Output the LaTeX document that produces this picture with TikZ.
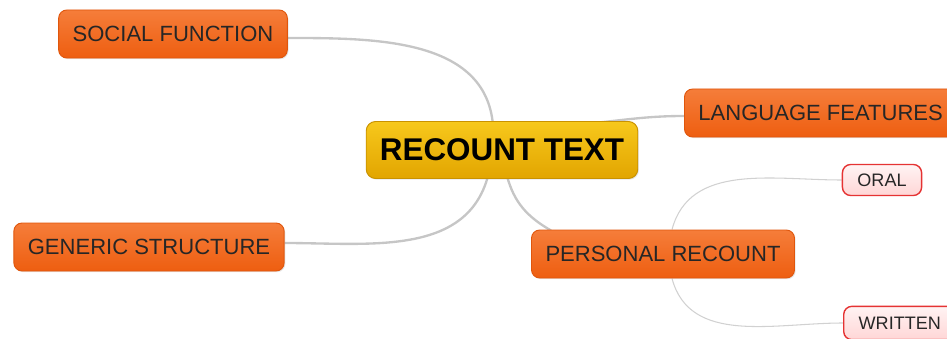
\documentclass[tikz,border=0pt]{standalone}
\usepackage{fontspec}
\setmainfont{Liberation Sans}
\usepackage{tikz}
\usetikzlibrary{calc,shadows,backgrounds}

\definecolor{orangetop}{HTML}{F57D3A}
\definecolor{orangebot}{HTML}{EE5E10}
\definecolor{orangeline}{HTML}{E0560C}
\definecolor{goldtop}{HTML}{F7C81C}
\definecolor{goldbot}{HTML}{E2A500}
\definecolor{goldline}{HTML}{C99200}
\definecolor{pinktop}{HTML}{FFF3F3}
\definecolor{pinkbot}{HTML}{FFD6D6}
\definecolor{redline}{HTML}{E53333}
\definecolor{branchgray}{HTML}{C6C6C6}

\tikzset{
    central/.style={draw=goldline, line width=0.8pt, rounded corners=8pt,
        top color=goldtop, bottom color=goldbot,
        drop shadow={opacity=0.2, shadow xshift=1pt, shadow yshift=-1pt},
        minimum height=1.71cm, inner xsep=0.41cm,
        font=\fontsize{26.8}{30}\selectfont\bfseries},
    topic/.style={draw=orangeline, line width=0.8pt, rounded corners=7pt,
        top color=orangetop, bottom color=orangebot,
        drop shadow={opacity=0.2, shadow xshift=1pt, shadow yshift=-1pt},
        minimum height=1.44cm, inner xsep=0.42cm, text=black!85,
        font=\fontsize{18.8}{22}\selectfont},
    subtopic/.style={draw=redline, line width=1.2pt, rounded corners=7pt,
        top color=pinktop, bottom color=pinkbot,
        minimum height=0.93cm, inner xsep=0.45cm, text=black!85,
        font=\fontsize{15.4}{18}\selectfont},
    branch/.style={draw=branchgray, line width=2pt},
    twig/.style={draw=branchgray!80, line width=0.9pt}
}

\begin{document}
\begin{tikzpicture}[x=0.03cm, y=-0.03cm]
\useasboundingbox (0,0) rectangle (947,339);
\clip (0,0) rectangle (947,339);

\node[central] (recount) at (502,150) {RECOUNT TEXT};
\node[topic] (social) at (173,34) {SOCIAL FUNCTION};
\node[topic, anchor=west] (language) at (684,113) {LANGUAGE FEATURES};
\node[topic] (generic) at (149,247) {GENERIC STRUCTURE};
\node[topic] (personal) at (663,254) {PERSONAL RECOUNT};
\node[subtopic] (oral) at (882,180) {ORAL};
\node[subtopic, anchor=west, minimum height=1.0cm] (written) at (843,323) {WRITTEN};

% branches behind the boxes
\begin{pgfonlayer}{background}
\coordinate (socialend) at (493,125);
\coordinate (langend) at (583,124);
\coordinate (genericend) at (488,176);
\coordinate (personalend) at (507,176);

\draw[branch] ($(social.east)+(0,4)$) to[out=0, in=95] (socialend);
\draw[branch] (langend) to[out=5, in=180] ($(language.west)+(0,3)$);
\draw[branch] ($(generic.east)+(0,-4)$) to[out=0, in=-105] (genericend);
\draw[branch] (personalend) to[out=-75, in=150] ($(personal.north west)+(20,1)$);

\draw[twig] ($(personal.north)+(9,0)$) to[out=75, in=180] (oral.west);
\draw[twig] ($(personal.south)+(9,0)$) to[out=-75, in=180] (written.west);
\end{pgfonlayer}

\end{tikzpicture}
\end{document}
